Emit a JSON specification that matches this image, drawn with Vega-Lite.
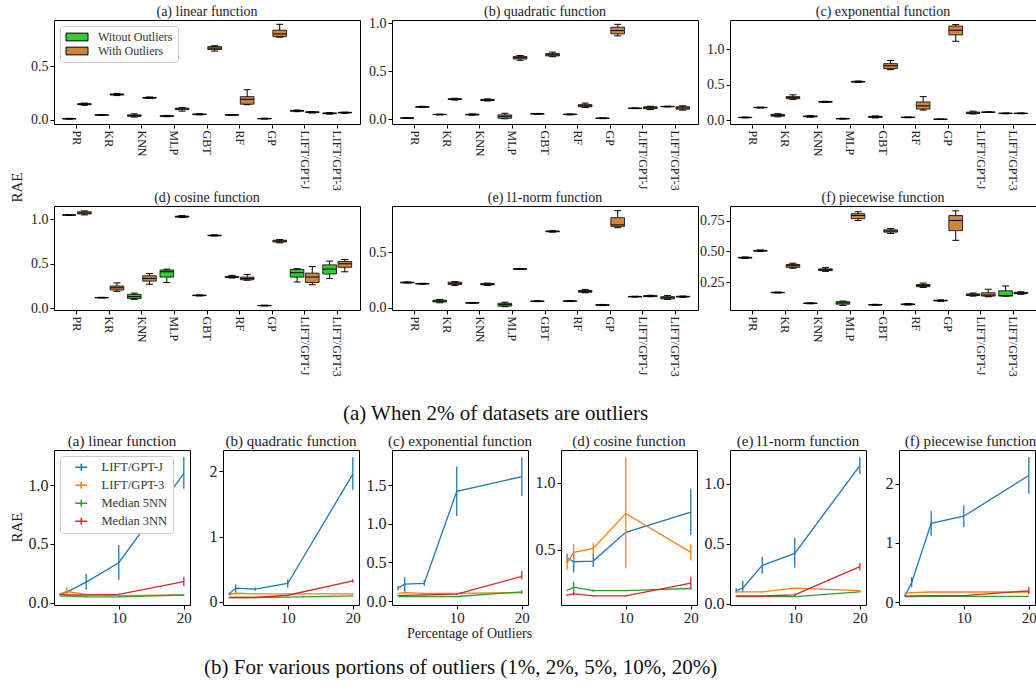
{
"$schema":"https://vega.github.io/schema/vega-lite/v6.json",
"padding":{"left":8,"top":4,"right":0,"bottom":0},
"background":"white",
"datasets":{
"box":[
{"p":"a","m":"PR","g":"Without","lo":0.005,"q1":0.007,"md":0.009,"q3":0.011,"hi":0.013},
{"p":"a","m":"PR","g":"With","lo":0.135,"q1":0.14,"md":0.145,"q3":0.15,"hi":0.155},
{"p":"a","m":"KR","g":"Without","lo":0.04,"q1":0.042,"md":0.044,"q3":0.046,"hi":0.048},
{"p":"a","m":"KR","g":"With","lo":0.225,"q1":0.23,"md":0.235,"q3":0.24,"hi":0.245},
{"p":"a","m":"KNN","g":"Without","lo":0.025,"q1":0.032,"md":0.038,"q3":0.045,"hi":0.055},
{"p":"a","m":"KNN","g":"With","lo":0.198,"q1":0.201,"md":0.204,"q3":0.208,"hi":0.212},
{"p":"a","m":"MLP","g":"Without","lo":0.028,"q1":0.031,"md":0.034,"q3":0.037,"hi":0.04},
{"p":"a","m":"MLP","g":"With","lo":0.08,"q1":0.094,"md":0.1,"q3":0.108,"hi":0.112},
{"p":"a","m":"GBT","g":"Without","lo":0.045,"q1":0.048,"md":0.05,"q3":0.053,"hi":0.056},
{"p":"a","m":"GBT","g":"With","lo":0.64,"q1":0.655,"md":0.668,"q3":0.682,"hi":0.69},
{"p":"a","m":"RF","g":"Without","lo":0.04,"q1":0.042,"md":0.045,"q3":0.047,"hi":0.049},
{"p":"a","m":"RF","g":"With","lo":0.14,"q1":0.145,"md":0.19,"q3":0.215,"hi":0.28},
{"p":"a","m":"GP","g":"Without","lo":0.006,"q1":0.008,"md":0.01,"q3":0.012,"hi":0.014},
{"p":"a","m":"GP","g":"With","lo":0.77,"q1":0.775,"md":0.8,"q3":0.835,"hi":0.89},
{"p":"a","m":"LIFT/GPT-J","g":"Without","lo":0.075,"q1":0.079,"md":0.083,"q3":0.087,"hi":0.09},
{"p":"a","m":"LIFT/GPT-J","g":"With","lo":0.062,"q1":0.066,"md":0.07,"q3":0.074,"hi":0.077},
{"p":"a","m":"LIFT/GPT-3","g":"Without","lo":0.052,"q1":0.056,"md":0.06,"q3":0.063,"hi":0.066},
{"p":"a","m":"LIFT/GPT-3","g":"With","lo":0.06,"q1":0.063,"md":0.066,"q3":0.069,"hi":0.071},
{"p":"b","m":"PR","g":"Without","lo":0.008,"q1":0.01,"md":0.012,"q3":0.014,"hi":0.016},
{"p":"b","m":"PR","g":"With","lo":0.122,"q1":0.125,"md":0.128,"q3":0.132,"hi":0.135},
{"p":"b","m":"KR","g":"Without","lo":0.045,"q1":0.047,"md":0.049,"q3":0.051,"hi":0.053},
{"p":"b","m":"KR","g":"With","lo":0.2,"q1":0.205,"md":0.21,"q3":0.214,"hi":0.218},
{"p":"b","m":"KNN","g":"Without","lo":0.042,"q1":0.045,"md":0.048,"q3":0.052,"hi":0.055},
{"p":"b","m":"KNN","g":"With","lo":0.19,"q1":0.195,"md":0.2,"q3":0.207,"hi":0.212},
{"p":"b","m":"MLP","g":"Without","lo":0.005,"q1":0.01,"md":0.03,"q3":0.045,"hi":0.062},
{"p":"b","m":"MLP","g":"With","lo":0.615,"q1":0.628,"md":0.64,"q3":0.655,"hi":0.665},
{"p":"b","m":"GBT","g":"Without","lo":0.052,"q1":0.054,"md":0.056,"q3":0.058,"hi":0.06},
{"p":"b","m":"GBT","g":"With","lo":0.652,"q1":0.66,"md":0.672,"q3":0.685,"hi":0.7},
{"p":"b","m":"RF","g":"Without","lo":0.045,"q1":0.048,"md":0.05,"q3":0.053,"hi":0.055},
{"p":"b","m":"RF","g":"With","lo":0.122,"q1":0.13,"md":0.14,"q3":0.152,"hi":0.168},
{"p":"b","m":"GP","g":"Without","lo":0.006,"q1":0.008,"md":0.01,"q3":0.012,"hi":0.014},
{"p":"b","m":"GP","g":"With","lo":0.87,"q1":0.89,"md":0.925,"q3":0.96,"hi":0.99},
{"p":"b","m":"LIFT/GPT-J","g":"Without","lo":0.11,"q1":0.112,"md":0.114,"q3":0.116,"hi":0.118},
{"p":"b","m":"LIFT/GPT-J","g":"With","lo":0.1,"q1":0.11,"md":0.12,"q3":0.13,"hi":0.135},
{"p":"b","m":"LIFT/GPT-3","g":"Without","lo":0.128,"q1":0.13,"md":0.132,"q3":0.134,"hi":0.136},
{"p":"b","m":"LIFT/GPT-3","g":"With","lo":0.095,"q1":0.105,"md":0.118,"q3":0.13,"hi":0.14},
{"p":"c","m":"PR","g":"Without","lo":0.03,"q1":0.033,"md":0.036,"q3":0.039,"hi":0.042},
{"p":"c","m":"PR","g":"With","lo":0.17,"q1":0.173,"md":0.176,"q3":0.179,"hi":0.182},
{"p":"c","m":"KR","g":"Without","lo":0.045,"q1":0.055,"md":0.065,"q3":0.08,"hi":0.09},
{"p":"c","m":"KR","g":"With","lo":0.29,"q1":0.3,"md":0.315,"q3":0.33,"hi":0.355},
{"p":"c","m":"KNN","g":"Without","lo":0.04,"q1":0.045,"md":0.05,"q3":0.058,"hi":0.062},
{"p":"c","m":"KNN","g":"With","lo":0.248,"q1":0.252,"md":0.256,"q3":0.26,"hi":0.264},
{"p":"c","m":"MLP","g":"Without","lo":0.013,"q1":0.016,"md":0.019,"q3":0.022,"hi":0.025},
{"p":"c","m":"MLP","g":"With","lo":0.53,"q1":0.535,"md":0.54,"q3":0.545,"hi":0.55},
{"p":"c","m":"GBT","g":"Without","lo":0.03,"q1":0.037,"md":0.044,"q3":0.052,"hi":0.058},
{"p":"c","m":"GBT","g":"With","lo":0.71,"q1":0.725,"md":0.765,"q3":0.795,"hi":0.84},
{"p":"c","m":"RF","g":"Without","lo":0.032,"q1":0.035,"md":0.038,"q3":0.041,"hi":0.044},
{"p":"c","m":"RF","g":"With","lo":0.14,"q1":0.155,"md":0.2,"q3":0.255,"hi":0.33},
{"p":"c","m":"GP","g":"Without","lo":0.007,"q1":0.009,"md":0.011,"q3":0.013,"hi":0.015},
{"p":"c","m":"GP","g":"With","lo":1.11,"q1":1.2,"md":1.265,"q3":1.325,"hi":1.345},
{"p":"c","m":"LIFT/GPT-J","g":"Without","lo":0.085,"q1":0.092,"md":0.1,"q3":0.112,"hi":0.125},
{"p":"c","m":"LIFT/GPT-J","g":"With","lo":0.105,"q1":0.108,"md":0.111,"q3":0.114,"hi":0.117},
{"p":"c","m":"LIFT/GPT-3","g":"Without","lo":0.088,"q1":0.091,"md":0.094,"q3":0.097,"hi":0.1},
{"p":"c","m":"LIFT/GPT-3","g":"With","lo":0.088,"q1":0.091,"md":0.094,"q3":0.097,"hi":0.1},
{"p":"d","m":"PR","g":"Without","lo":1.045,"q1":1.047,"md":1.049,"q3":1.051,"hi":1.053},
{"p":"d","m":"PR","g":"With","lo":1.05,"q1":1.06,"md":1.072,"q3":1.085,"hi":1.095},
{"p":"d","m":"KR","g":"Without","lo":0.115,"q1":0.117,"md":0.119,"q3":0.121,"hi":0.123},
{"p":"d","m":"KR","g":"With","lo":0.19,"q1":0.205,"md":0.23,"q3":0.25,"hi":0.285},
{"p":"d","m":"KNN","g":"Without","lo":0.1,"q1":0.11,"md":0.13,"q3":0.155,"hi":0.17},
{"p":"d","m":"KNN","g":"With","lo":0.27,"q1":0.305,"md":0.335,"q3":0.365,"hi":0.39},
{"p":"d","m":"MLP","g":"Without","lo":0.29,"q1":0.35,"md":0.41,"q3":0.43,"hi":0.44},
{"p":"d","m":"MLP","g":"With","lo":1.02,"q1":1.025,"md":1.03,"q3":1.036,"hi":1.042},
{"p":"d","m":"GBT","g":"Without","lo":0.138,"q1":0.141,"md":0.144,"q3":0.147,"hi":0.15},
{"p":"d","m":"GBT","g":"With","lo":0.812,"q1":0.815,"md":0.818,"q3":0.822,"hi":0.826},
{"p":"d","m":"RF","g":"Without","lo":0.34,"q1":0.346,"md":0.352,"q3":0.358,"hi":0.37},
{"p":"d","m":"RF","g":"With","lo":0.315,"q1":0.32,"md":0.335,"q3":0.35,"hi":0.38},
{"p":"d","m":"GP","g":"Without","lo":0.026,"q1":0.028,"md":0.03,"q3":0.032,"hi":0.034},
{"p":"d","m":"GP","g":"With","lo":0.735,"q1":0.745,"md":0.755,"q3":0.765,"hi":0.772},
{"p":"d","m":"LIFT/GPT-J","g":"Without","lo":0.295,"q1":0.35,"md":0.4,"q3":0.435,"hi":0.445},
{"p":"d","m":"LIFT/GPT-J","g":"With","lo":0.265,"q1":0.29,"md":0.35,"q3":0.395,"hi":0.468},
{"p":"d","m":"LIFT/GPT-3","g":"Without","lo":0.335,"q1":0.385,"md":0.44,"q3":0.488,"hi":0.53},
{"p":"d","m":"LIFT/GPT-3","g":"With","lo":0.41,"q1":0.46,"md":0.5,"q3":0.525,"hi":0.548},
{"p":"e","m":"PR","g":"Without","lo":0.222,"q1":0.224,"md":0.227,"q3":0.23,"hi":0.233},
{"p":"e","m":"PR","g":"With","lo":0.212,"q1":0.214,"md":0.216,"q3":0.218,"hi":0.22},
{"p":"e","m":"KR","g":"Without","lo":0.045,"q1":0.052,"md":0.06,"q3":0.068,"hi":0.075},
{"p":"e","m":"KR","g":"With","lo":0.2,"q1":0.21,"md":0.22,"q3":0.23,"hi":0.235},
{"p":"e","m":"KNN","g":"Without","lo":0.04,"q1":0.042,"md":0.044,"q3":0.046,"hi":0.048},
{"p":"e","m":"KNN","g":"With","lo":0.2,"q1":0.206,"md":0.212,"q3":0.218,"hi":0.222},
{"p":"e","m":"MLP","g":"Without","lo":0.01,"q1":0.015,"md":0.028,"q3":0.04,"hi":0.05},
{"p":"e","m":"MLP","g":"With","lo":0.343,"q1":0.345,"md":0.348,"q3":0.351,"hi":0.353},
{"p":"e","m":"GBT","g":"Without","lo":0.055,"q1":0.057,"md":0.059,"q3":0.061,"hi":0.063},
{"p":"e","m":"GBT","g":"With","lo":0.68,"q1":0.683,"md":0.687,"q3":0.69,"hi":0.693},
{"p":"e","m":"RF","g":"Without","lo":0.056,"q1":0.058,"md":0.06,"q3":0.062,"hi":0.064},
{"p":"e","m":"RF","g":"With","lo":0.135,"q1":0.14,"md":0.147,"q3":0.155,"hi":0.165},
{"p":"e","m":"GP","g":"Without","lo":0.02,"q1":0.022,"md":0.025,"q3":0.028,"hi":0.03},
{"p":"e","m":"GP","g":"With","lo":0.72,"q1":0.732,"md":0.745,"q3":0.81,"hi":0.873},
{"p":"e","m":"LIFT/GPT-J","g":"Without","lo":0.096,"q1":0.098,"md":0.1,"q3":0.102,"hi":0.104},
{"p":"e","m":"LIFT/GPT-J","g":"With","lo":0.098,"q1":0.101,"md":0.105,"q3":0.109,"hi":0.112},
{"p":"e","m":"LIFT/GPT-3","g":"Without","lo":0.075,"q1":0.08,"md":0.09,"q3":0.1,"hi":0.11},
{"p":"e","m":"LIFT/GPT-3","g":"With","lo":0.094,"q1":0.097,"md":0.1,"q3":0.103,"hi":0.106},
{"p":"f","m":"PR","g":"Without","lo":0.444,"q1":0.447,"md":0.45,"q3":0.453,"hi":0.456},
{"p":"f","m":"PR","g":"With","lo":0.5,"q1":0.503,"md":0.506,"q3":0.509,"hi":0.512},
{"p":"f","m":"KR","g":"Without","lo":0.165,"q1":0.167,"md":0.169,"q3":0.171,"hi":0.173},
{"p":"f","m":"KR","g":"With","lo":0.365,"q1":0.372,"md":0.385,"q3":0.395,"hi":0.405},
{"p":"f","m":"KNN","g":"Without","lo":0.078,"q1":0.08,"md":0.082,"q3":0.084,"hi":0.086},
{"p":"f","m":"KNN","g":"With","lo":0.34,"q1":0.346,"md":0.353,"q3":0.36,"hi":0.37},
{"p":"f","m":"MLP","g":"Without","lo":0.065,"q1":0.075,"md":0.085,"q3":0.095,"hi":0.1},
{"p":"f","m":"MLP","g":"With","lo":0.75,"q1":0.765,"md":0.79,"q3":0.805,"hi":0.82},
{"p":"f","m":"GBT","g":"Without","lo":0.066,"q1":0.068,"md":0.07,"q3":0.072,"hi":0.074},
{"p":"f","m":"GBT","g":"With","lo":0.645,"q1":0.656,"md":0.665,"q3":0.675,"hi":0.685},
{"p":"f","m":"RF","g":"Without","lo":0.068,"q1":0.071,"md":0.074,"q3":0.077,"hi":0.08},
{"p":"f","m":"RF","g":"With","lo":0.21,"q1":0.216,"md":0.225,"q3":0.234,"hi":0.245},
{"p":"f","m":"GP","g":"Without","lo":0.098,"q1":0.101,"md":0.104,"q3":0.107,"hi":0.11},
{"p":"f","m":"GP","g":"With","lo":0.59,"q1":0.668,"md":0.75,"q3":0.79,"hi":0.828},
{"p":"f","m":"LIFT/GPT-J","g":"Without","lo":0.14,"q1":0.145,"md":0.15,"q3":0.158,"hi":0.165},
{"p":"f","m":"LIFT/GPT-J","g":"With","lo":0.135,"q1":0.14,"md":0.15,"q3":0.167,"hi":0.195},
{"p":"f","m":"LIFT/GPT-3","g":"Without","lo":0.14,"q1":0.14,"md":0.145,"q3":0.183,"hi":0.222},
{"p":"f","m":"LIFT/GPT-3","g":"With","lo":0.155,"q1":0.16,"md":0.165,"q3":0.17,"hi":0.175}
],
"line":[
{"p":"a","s":"LIFT/GPT-J","x":1,"v":0.07,"lo":0.06,"hi":0.08},
{"p":"a","s":"LIFT/GPT-J","x":2,"v":0.09,"lo":0.07,"hi":0.11},
{"p":"a","s":"LIFT/GPT-J","x":5,"v":0.175,"lo":0.11,"hi":0.245},
{"p":"a","s":"LIFT/GPT-J","x":10,"v":0.34,"lo":0.19,"hi":0.49},
{"p":"a","s":"LIFT/GPT-J","x":20,"v":1.1,"lo":0.97,"hi":1.24},
{"p":"a","s":"LIFT/GPT-3","x":1,"v":0.075,"lo":0.07,"hi":0.08},
{"p":"a","s":"LIFT/GPT-3","x":2,"v":0.095,"lo":0.06,"hi":0.13},
{"p":"a","s":"LIFT/GPT-3","x":5,"v":0.07,"lo":0.065,"hi":0.075},
{"p":"a","s":"LIFT/GPT-3","x":10,"v":0.06,"lo":0.055,"hi":0.065},
{"p":"a","s":"LIFT/GPT-3","x":20,"v":0.065,"lo":0.06,"hi":0.07},
{"p":"a","s":"Median 5NN","x":1,"v":0.055,"lo":0.052,"hi":0.058},
{"p":"a","s":"Median 5NN","x":2,"v":0.055,"lo":0.052,"hi":0.058},
{"p":"a","s":"Median 5NN","x":5,"v":0.05,"lo":0.047,"hi":0.053},
{"p":"a","s":"Median 5NN","x":10,"v":0.05,"lo":0.047,"hi":0.053},
{"p":"a","s":"Median 5NN","x":20,"v":0.065,"lo":0.062,"hi":0.068},
{"p":"a","s":"Median 3NN","x":1,"v":0.07,"lo":0.067,"hi":0.073},
{"p":"a","s":"Median 3NN","x":2,"v":0.065,"lo":0.062,"hi":0.068},
{"p":"a","s":"Median 3NN","x":5,"v":0.065,"lo":0.062,"hi":0.068},
{"p":"a","s":"Median 3NN","x":10,"v":0.07,"lo":0.065,"hi":0.075},
{"p":"a","s":"Median 3NN","x":20,"v":0.18,"lo":0.14,"hi":0.22},
{"p":"b","s":"LIFT/GPT-J","x":1,"v":0.12,"lo":0.1,"hi":0.14},
{"p":"b","s":"LIFT/GPT-J","x":2,"v":0.21,"lo":0.15,"hi":0.27},
{"p":"b","s":"LIFT/GPT-J","x":5,"v":0.195,"lo":0.17,"hi":0.22},
{"p":"b","s":"LIFT/GPT-J","x":10,"v":0.28,"lo":0.22,"hi":0.34},
{"p":"b","s":"LIFT/GPT-J","x":20,"v":1.96,"lo":1.72,"hi":2.22},
{"p":"b","s":"LIFT/GPT-3","x":1,"v":0.11,"lo":0.1,"hi":0.12},
{"p":"b","s":"LIFT/GPT-3","x":2,"v":0.13,"lo":0.11,"hi":0.15},
{"p":"b","s":"LIFT/GPT-3","x":5,"v":0.12,"lo":0.11,"hi":0.13},
{"p":"b","s":"LIFT/GPT-3","x":10,"v":0.12,"lo":0.11,"hi":0.13},
{"p":"b","s":"LIFT/GPT-3","x":20,"v":0.12,"lo":0.11,"hi":0.13},
{"p":"b","s":"Median 5NN","x":1,"v":0.065,"lo":0.06,"hi":0.07},
{"p":"b","s":"Median 5NN","x":2,"v":0.065,"lo":0.06,"hi":0.07},
{"p":"b","s":"Median 5NN","x":5,"v":0.065,"lo":0.06,"hi":0.07},
{"p":"b","s":"Median 5NN","x":10,"v":0.07,"lo":0.065,"hi":0.075},
{"p":"b","s":"Median 5NN","x":20,"v":0.09,"lo":0.085,"hi":0.095},
{"p":"b","s":"Median 3NN","x":1,"v":0.065,"lo":0.06,"hi":0.07},
{"p":"b","s":"Median 3NN","x":2,"v":0.065,"lo":0.06,"hi":0.07},
{"p":"b","s":"Median 3NN","x":5,"v":0.065,"lo":0.06,"hi":0.07},
{"p":"b","s":"Median 3NN","x":10,"v":0.1,"lo":0.095,"hi":0.105},
{"p":"b","s":"Median 3NN","x":20,"v":0.32,"lo":0.29,"hi":0.35},
{"p":"c","s":"LIFT/GPT-J","x":1,"v":0.17,"lo":0.14,"hi":0.2},
{"p":"c","s":"LIFT/GPT-J","x":2,"v":0.22,"lo":0.12,"hi":0.31},
{"p":"c","s":"LIFT/GPT-J","x":5,"v":0.23,"lo":0.2,"hi":0.27},
{"p":"c","s":"LIFT/GPT-J","x":10,"v":1.42,"lo":1.1,"hi":1.74},
{"p":"c","s":"LIFT/GPT-J","x":20,"v":1.61,"lo":1.36,"hi":1.86},
{"p":"c","s":"LIFT/GPT-3","x":1,"v":0.1,"lo":0.095,"hi":0.105},
{"p":"c","s":"LIFT/GPT-3","x":2,"v":0.11,"lo":0.105,"hi":0.115},
{"p":"c","s":"LIFT/GPT-3","x":5,"v":0.1,"lo":0.095,"hi":0.105},
{"p":"c","s":"LIFT/GPT-3","x":10,"v":0.1,"lo":0.095,"hi":0.105},
{"p":"c","s":"LIFT/GPT-3","x":20,"v":0.11,"lo":0.1,"hi":0.12},
{"p":"c","s":"Median 5NN","x":1,"v":0.06,"lo":0.057,"hi":0.063},
{"p":"c","s":"Median 5NN","x":2,"v":0.06,"lo":0.057,"hi":0.063},
{"p":"c","s":"Median 5NN","x":5,"v":0.06,"lo":0.057,"hi":0.063},
{"p":"c","s":"Median 5NN","x":10,"v":0.06,"lo":0.057,"hi":0.063},
{"p":"c","s":"Median 5NN","x":20,"v":0.12,"lo":0.1,"hi":0.14},
{"p":"c","s":"Median 3NN","x":1,"v":0.07,"lo":0.067,"hi":0.073},
{"p":"c","s":"Median 3NN","x":2,"v":0.075,"lo":0.07,"hi":0.08},
{"p":"c","s":"Median 3NN","x":5,"v":0.08,"lo":0.075,"hi":0.085},
{"p":"c","s":"Median 3NN","x":10,"v":0.09,"lo":0.085,"hi":0.095},
{"p":"c","s":"Median 3NN","x":20,"v":0.32,"lo":0.28,"hi":0.39},
{"p":"d","s":"LIFT/GPT-J","x":1,"v":0.44,"lo":0.4,"hi":0.47},
{"p":"d","s":"LIFT/GPT-J","x":2,"v":0.41,"lo":0.33,"hi":0.47},
{"p":"d","s":"LIFT/GPT-J","x":5,"v":0.415,"lo":0.37,"hi":0.47},
{"p":"d","s":"LIFT/GPT-J","x":10,"v":0.63,"lo":0.62,"hi":0.64},
{"p":"d","s":"LIFT/GPT-J","x":20,"v":0.78,"lo":0.61,"hi":0.955},
{"p":"d","s":"LIFT/GPT-3","x":1,"v":0.4,"lo":0.35,"hi":0.45},
{"p":"d","s":"LIFT/GPT-3","x":2,"v":0.48,"lo":0.42,"hi":0.54},
{"p":"d","s":"LIFT/GPT-3","x":5,"v":0.51,"lo":0.47,"hi":0.55},
{"p":"d","s":"LIFT/GPT-3","x":10,"v":0.77,"lo":0.36,"hi":1.19},
{"p":"d","s":"LIFT/GPT-3","x":20,"v":0.48,"lo":0.42,"hi":0.54},
{"p":"d","s":"Median 5NN","x":1,"v":0.195,"lo":0.19,"hi":0.2},
{"p":"d","s":"Median 5NN","x":2,"v":0.22,"lo":0.18,"hi":0.26},
{"p":"d","s":"Median 5NN","x":5,"v":0.195,"lo":0.185,"hi":0.205},
{"p":"d","s":"Median 5NN","x":10,"v":0.195,"lo":0.19,"hi":0.2},
{"p":"d","s":"Median 5NN","x":20,"v":0.21,"lo":0.2,"hi":0.22},
{"p":"d","s":"Median 3NN","x":1,"v":0.16,"lo":0.155,"hi":0.165},
{"p":"d","s":"Median 3NN","x":2,"v":0.17,"lo":0.16,"hi":0.185},
{"p":"d","s":"Median 3NN","x":5,"v":0.155,"lo":0.15,"hi":0.16},
{"p":"d","s":"Median 3NN","x":10,"v":0.155,"lo":0.15,"hi":0.16},
{"p":"d","s":"Median 3NN","x":20,"v":0.25,"lo":0.21,"hi":0.3},
{"p":"e","s":"LIFT/GPT-J","x":1,"v":0.11,"lo":0.09,"hi":0.13},
{"p":"e","s":"LIFT/GPT-J","x":2,"v":0.13,"lo":0.1,"hi":0.19},
{"p":"e","s":"LIFT/GPT-J","x":5,"v":0.32,"lo":0.25,"hi":0.39},
{"p":"e","s":"LIFT/GPT-J","x":10,"v":0.42,"lo":0.3,"hi":0.55},
{"p":"e","s":"LIFT/GPT-J","x":20,"v":1.15,"lo":1.08,"hi":1.22},
{"p":"e","s":"LIFT/GPT-3","x":1,"v":0.1,"lo":0.095,"hi":0.105},
{"p":"e","s":"LIFT/GPT-3","x":2,"v":0.1,"lo":0.095,"hi":0.105},
{"p":"e","s":"LIFT/GPT-3","x":5,"v":0.1,"lo":0.095,"hi":0.105},
{"p":"e","s":"LIFT/GPT-3","x":10,"v":0.13,"lo":0.125,"hi":0.135},
{"p":"e","s":"LIFT/GPT-3","x":20,"v":0.11,"lo":0.105,"hi":0.115},
{"p":"e","s":"Median 5NN","x":1,"v":0.06,"lo":0.057,"hi":0.063},
{"p":"e","s":"Median 5NN","x":2,"v":0.06,"lo":0.057,"hi":0.063},
{"p":"e","s":"Median 5NN","x":5,"v":0.06,"lo":0.057,"hi":0.063},
{"p":"e","s":"Median 5NN","x":10,"v":0.06,"lo":0.057,"hi":0.063},
{"p":"e","s":"Median 5NN","x":20,"v":0.1,"lo":0.095,"hi":0.105},
{"p":"e","s":"Median 3NN","x":1,"v":0.065,"lo":0.062,"hi":0.068},
{"p":"e","s":"Median 3NN","x":2,"v":0.065,"lo":0.062,"hi":0.068},
{"p":"e","s":"Median 3NN","x":5,"v":0.065,"lo":0.062,"hi":0.068},
{"p":"e","s":"Median 3NN","x":10,"v":0.075,"lo":0.065,"hi":0.085},
{"p":"e","s":"Median 3NN","x":20,"v":0.31,"lo":0.28,"hi":0.34},
{"p":"f","s":"LIFT/GPT-J","x":1,"v":0.11,"lo":0.09,"hi":0.13},
{"p":"f","s":"LIFT/GPT-J","x":2,"v":0.33,"lo":0.25,"hi":0.42},
{"p":"f","s":"LIFT/GPT-J","x":5,"v":1.33,"lo":1.12,"hi":1.54},
{"p":"f","s":"LIFT/GPT-J","x":10,"v":1.45,"lo":1.27,"hi":1.63},
{"p":"f","s":"LIFT/GPT-J","x":20,"v":2.14,"lo":1.83,"hi":2.45},
{"p":"f","s":"LIFT/GPT-3","x":1,"v":0.15,"lo":0.14,"hi":0.16},
{"p":"f","s":"LIFT/GPT-3","x":2,"v":0.16,"lo":0.15,"hi":0.17},
{"p":"f","s":"LIFT/GPT-3","x":5,"v":0.17,"lo":0.16,"hi":0.18},
{"p":"f","s":"LIFT/GPT-3","x":10,"v":0.17,"lo":0.16,"hi":0.18},
{"p":"f","s":"LIFT/GPT-3","x":20,"v":0.17,"lo":0.16,"hi":0.18},
{"p":"f","s":"Median 5NN","x":1,"v":0.09,"lo":0.085,"hi":0.095},
{"p":"f","s":"Median 5NN","x":2,"v":0.09,"lo":0.085,"hi":0.095},
{"p":"f","s":"Median 5NN","x":5,"v":0.095,"lo":0.09,"hi":0.1},
{"p":"f","s":"Median 5NN","x":10,"v":0.095,"lo":0.09,"hi":0.1},
{"p":"f","s":"Median 5NN","x":20,"v":0.095,"lo":0.09,"hi":0.1},
{"p":"f","s":"Median 3NN","x":1,"v":0.1,"lo":0.095,"hi":0.105},
{"p":"f","s":"Median 3NN","x":2,"v":0.105,"lo":0.1,"hi":0.11},
{"p":"f","s":"Median 3NN","x":5,"v":0.11,"lo":0.105,"hi":0.115},
{"p":"f","s":"Median 3NN","x":10,"v":0.11,"lo":0.105,"hi":0.115},
{"p":"f","s":"Median 3NN","x":20,"v":0.19,"lo":0.13,"hi":0.26}
]
},
"vconcat":[
{
"concat":[
{"width":306,"height":104,"data":{"name":"box"},"transform":[{"filter":"datum.p=='a'"}],"title":{"text":"(a) linear function"},
"encoding":{"x":{"field":"m","type":"nominal","scale":{"domain":["PR","KR","KNN","MLP","GBT","RF","GP","LIFT/GPT-J","LIFT/GPT-3"],"paddingInner":0,"paddingOuter":0.2},"axis":{"labelAngle":90,"labelAlign":"left","labelBaseline":"middle"},"title":null},
"xOffset":{"field":"g","type":"nominal","scale":{"domain":["Without","With"],"paddingInner":0.1,"paddingOuter":0.12}}},
"layer":[
{"mark":{"type":"rule","color":"black","strokeWidth":1},"encoding":{"y":{"field":"lo","type":"quantitative","title":"RAE","scale":{"domain":[-0.04,0.93],"nice":false,"zero":false},"axis":{"values":[0,0.5],"format":".1f","titleX":-30,"titleY":167,"titleAngle":-90,"titleAlign":"center","titleBaseline":"bottom","titleFontSize":15}},"y2":{"field":"hi"}}},
{"mark":{"type":"bar","stroke":"black","strokeWidth":0.8,"opacity":1},"encoding":{"y":{"field":"q1","type":"quantitative","title":"RAE"},"y2":{"field":"q3"},"color":{"field":"g","type":"nominal","scale":{"domain":["Without","With"],"range":["#32CD32","#CD853F"]},"legend":{"orient":"top-left","offset":6,"title":null,"labelExpr":"datum.label == 'Without' ? 'Witout Outliers' : 'With Outliers'","labelFontSize":12,"labelColor":"#333","symbolType":"M-2,-0.7H2V0.7H-2Z","symbolSize":121,"symbolStrokeColor":"black","symbolStrokeWidth":1,"symbolOpacity":1,"symbolOffset":6,"labelOffset":15,"padding":5,"rowPadding":2,"strokeColor":"#cccccc","fillColor":"white","cornerRadius":3}}}},
{"mark":{"type":"tick","color":"black","thickness":1,"size":13,"opacity":1},"encoding":{"y":{"field":"md","type":"quantitative","title":"RAE"}}},
{"mark":{"type":"tick","color":"black","thickness":1,"size":7,"opacity":1},"encoding":{"y":{"field":"lo","type":"quantitative","title":"RAE"}}},
{"mark":{"type":"tick","color":"black","thickness":1,"size":7,"opacity":1},"encoding":{"y":{"field":"hi","type":"quantitative","title":"RAE"}}}
]},
{"width":306,"height":104,"data":{"name":"box"},"transform":[{"filter":"datum.p=='b'"}],"title":{"text":"(b) quadratic function","dy":4},
"encoding":{"x":{"field":"m","type":"nominal","scale":{"domain":["PR","KR","KNN","MLP","GBT","RF","GP","LIFT/GPT-J","LIFT/GPT-3"],"paddingInner":0,"paddingOuter":0.2},"axis":{"labelAngle":90,"labelAlign":"left","labelBaseline":"middle"},"title":null},
"xOffset":{"field":"g","type":"nominal","scale":{"domain":["Without","With"],"paddingInner":0.1,"paddingOuter":0.12}}},
"layer":[
{"mark":{"type":"rule","color":"black","strokeWidth":1},"encoding":{"y":{"field":"lo","type":"quantitative","scale":{"domain":[-0.05,1.035],"nice":false,"zero":false},"axis":{"values":[0,0.5,1],"format":".1f"},"title":null},"y2":{"field":"hi"}}},
{"mark":{"type":"bar","stroke":"black","strokeWidth":0.8,"opacity":1},"encoding":{"y":{"field":"q1","type":"quantitative","title":null},"y2":{"field":"q3"},"color":{"field":"g","type":"nominal","scale":{"domain":["Without","With"],"range":["#32CD32","#CD853F"]},"legend":null}}},
{"mark":{"type":"tick","color":"black","thickness":1,"size":13,"opacity":1},"encoding":{"y":{"field":"md","type":"quantitative","title":null}}},
{"mark":{"type":"tick","color":"black","thickness":1,"size":7,"opacity":1},"encoding":{"y":{"field":"lo","type":"quantitative","title":null}}},
{"mark":{"type":"tick","color":"black","thickness":1,"size":7,"opacity":1},"encoding":{"y":{"field":"hi","type":"quantitative","title":null}}}
]},
{"width":306,"height":104,"data":{"name":"box"},"transform":[{"filter":"datum.p=='c'"}],"title":{"text":"(c) exponential function"},
"encoding":{"x":{"field":"m","type":"nominal","scale":{"domain":["PR","KR","KNN","MLP","GBT","RF","GP","LIFT/GPT-J","LIFT/GPT-3"],"paddingInner":0,"paddingOuter":0.2},"axis":{"labelAngle":90,"labelAlign":"left","labelBaseline":"middle"},"title":null},
"xOffset":{"field":"g","type":"nominal","scale":{"domain":["Without","With"],"paddingInner":0.1,"paddingOuter":0.12}}},
"layer":[
{"mark":{"type":"rule","color":"black","strokeWidth":1},"encoding":{"y":{"field":"lo","type":"quantitative","scale":{"domain":[-0.056,1.41],"nice":false,"zero":false},"axis":{"values":[0,0.5,1],"format":".1f"},"title":null},"y2":{"field":"hi"}}},
{"mark":{"type":"bar","stroke":"black","strokeWidth":0.8,"opacity":1},"encoding":{"y":{"field":"q1","type":"quantitative","title":null},"y2":{"field":"q3"},"color":{"field":"g","type":"nominal","scale":{"domain":["Without","With"],"range":["#32CD32","#CD853F"]},"legend":null}}},
{"mark":{"type":"tick","color":"black","thickness":1,"size":13,"opacity":1},"encoding":{"y":{"field":"md","type":"quantitative","title":null}}},
{"mark":{"type":"tick","color":"black","thickness":1,"size":7,"opacity":1},"encoding":{"y":{"field":"lo","type":"quantitative","title":null}}},
{"mark":{"type":"tick","color":"black","thickness":1,"size":7,"opacity":1},"encoding":{"y":{"field":"hi","type":"quantitative","title":null}}}
]},
{"width":306,"height":104,"data":{"name":"box"},"transform":[{"filter":"datum.p=='d'"}],"title":{"text":"(d) cosine function"},
"encoding":{"x":{"field":"m","type":"nominal","scale":{"domain":["PR","KR","KNN","MLP","GBT","RF","GP","LIFT/GPT-J","LIFT/GPT-3"],"paddingInner":0,"paddingOuter":0.2},"axis":{"labelAngle":90,"labelAlign":"left","labelBaseline":"middle"},"title":null},
"xOffset":{"field":"g","type":"nominal","scale":{"domain":["Without","With"],"paddingInner":0.1,"paddingOuter":0.12}}},
"layer":[
{"mark":{"type":"rule","color":"black","strokeWidth":1},"encoding":{"y":{"field":"lo","type":"quantitative","scale":{"domain":[-0.02,1.15],"nice":false,"zero":false},"axis":{"values":[0,0.5,1],"format":".1f"},"title":null},"y2":{"field":"hi"}}},
{"mark":{"type":"bar","stroke":"black","strokeWidth":0.8,"opacity":1},"encoding":{"y":{"field":"q1","type":"quantitative","title":null},"y2":{"field":"q3"},"color":{"field":"g","type":"nominal","scale":{"domain":["Without","With"],"range":["#32CD32","#CD853F"]},"legend":null}}},
{"mark":{"type":"tick","color":"black","thickness":1,"size":13,"opacity":1},"encoding":{"y":{"field":"md","type":"quantitative","title":null}}},
{"mark":{"type":"tick","color":"black","thickness":1,"size":7,"opacity":1},"encoding":{"y":{"field":"lo","type":"quantitative","title":null}}},
{"mark":{"type":"tick","color":"black","thickness":1,"size":7,"opacity":1},"encoding":{"y":{"field":"hi","type":"quantitative","title":null}}}
]},
{"width":306,"height":104,"data":{"name":"box"},"transform":[{"filter":"datum.p=='e'"}],"title":{"text":"(e) l1-norm function"},
"encoding":{"x":{"field":"m","type":"nominal","scale":{"domain":["PR","KR","KNN","MLP","GBT","RF","GP","LIFT/GPT-J","LIFT/GPT-3"],"paddingInner":0,"paddingOuter":0.2},"axis":{"labelAngle":90,"labelAlign":"left","labelBaseline":"middle"},"title":null},
"xOffset":{"field":"g","type":"nominal","scale":{"domain":["Without","With"],"paddingInner":0.1,"paddingOuter":0.12}}},
"layer":[
{"mark":{"type":"rule","color":"black","strokeWidth":1},"encoding":{"y":{"field":"lo","type":"quantitative","scale":{"domain":[-0.02,0.915],"nice":false,"zero":false},"axis":{"values":[0,0.5],"format":".1f"},"title":null},"y2":{"field":"hi"}}},
{"mark":{"type":"bar","stroke":"black","strokeWidth":0.8,"opacity":1},"encoding":{"y":{"field":"q1","type":"quantitative","title":null},"y2":{"field":"q3"},"color":{"field":"g","type":"nominal","scale":{"domain":["Without","With"],"range":["#32CD32","#CD853F"]},"legend":null}}},
{"mark":{"type":"tick","color":"black","thickness":1,"size":13,"opacity":1},"encoding":{"y":{"field":"md","type":"quantitative","title":null}}},
{"mark":{"type":"tick","color":"black","thickness":1,"size":7,"opacity":1},"encoding":{"y":{"field":"lo","type":"quantitative","title":null}}},
{"mark":{"type":"tick","color":"black","thickness":1,"size":7,"opacity":1},"encoding":{"y":{"field":"hi","type":"quantitative","title":null}}}
]},
{"width":306,"height":104,"data":{"name":"box"},"transform":[{"filter":"datum.p=='f'"}],"title":{"text":"(f) piecewise function"},
"encoding":{"x":{"field":"m","type":"nominal","scale":{"domain":["PR","KR","KNN","MLP","GBT","RF","GP","LIFT/GPT-J","LIFT/GPT-3"],"paddingInner":0,"paddingOuter":0.2},"axis":{"labelAngle":90,"labelAlign":"left","labelBaseline":"middle"},"title":null},
"xOffset":{"field":"g","type":"nominal","scale":{"domain":["Without","With"],"paddingInner":0.1,"paddingOuter":0.12}}},
"layer":[
{"mark":{"type":"rule","color":"black","strokeWidth":1},"encoding":{"y":{"field":"lo","type":"quantitative","scale":{"domain":[0.028,0.867],"nice":false,"zero":false},"axis":{"values":[0.25,0.5,0.75],"format":".2f"},"title":null},"y2":{"field":"hi"}}},
{"mark":{"type":"bar","stroke":"black","strokeWidth":0.8,"opacity":1},"encoding":{"y":{"field":"q1","type":"quantitative","title":null},"y2":{"field":"q3"},"color":{"field":"g","type":"nominal","scale":{"domain":["Without","With"],"range":["#32CD32","#CD853F"]},"legend":null}}},
{"mark":{"type":"tick","color":"black","thickness":1,"size":13,"opacity":1},"encoding":{"y":{"field":"md","type":"quantitative","title":null}}},
{"mark":{"type":"tick","color":"black","thickness":1,"size":7,"opacity":1},"encoding":{"y":{"field":"lo","type":"quantitative","title":null}}},
{"mark":{"type":"tick","color":"black","thickness":1,"size":7,"opacity":1},"encoding":{"y":{"field":"hi","type":"quantitative","title":null}}}
]}
],
"columns":3,
"spacing":{"row":82,"column":32},
"bounds":"flush",
"resolve":{"scale":{"color":"independent"},"legend":{"color":"independent"}},
"title":{"text":"(a) When 2% of datasets are outliers","orient":"bottom","fontSize":21,"offset":26,"dx":-27,"anchor":"middle","color":"#111"}
},
{
"hconcat":[
{"width":136,"height":155,"data":{"name":"line"},"transform":[{"filter":"datum.p=='a'"}],"title":{"text":"(a) linear function","fontSize":15},
"encoding":{"x":{"field":"x","type":"quantitative","scale":{"domain":[0.05,20.95],"nice":false,"zero":false},"axis":{"values":[10,20],"labelFontSize":15,"labelPadding":1,"labelAngle":0},"title":null},
"color":{"field":"s","type":"nominal","scale":{"domain":["LIFT/GPT-J","LIFT/GPT-3","Median 5NN","Median 3NN"],"range":["#1f77b4","#ff7f0e","#2ca02c","#d62728"]},"legend":{"orient":"top-left","offset":6,"title":null,"labelFontSize":12.5,"labelColor":"#333","symbolType":"M-2,0H2M0,-1.2V1.2","symbolSize":36,"symbolStrokeWidth":1.5,"symbolOffset":10,"labelOffset":14,"padding":5,"rowPadding":4,"strokeColor":"#cccccc","fillColor":"white","cornerRadius":3}}},
"layer":[
{"mark":{"type":"line","strokeWidth":1.3},"encoding":{"y":{"field":"v","type":"quantitative","title":"RAE","scale":{"domain":[-0.02,1.3],"nice":false,"zero":false},"axis":{"values":[0,0.5,1],"format":".1f","labelFontSize":16,"titleX":-30,"titleY":77,"titleAngle":-90,"titleAlign":"center","titleBaseline":"bottom","titleFontSize":15}}}},
{"mark":{"type":"rule","strokeWidth":1.3},"encoding":{"y":{"field":"lo","type":"quantitative","title":"RAE"},"y2":{"field":"hi"}}}
]},
{"width":136,"height":155,"data":{"name":"line"},"transform":[{"filter":"datum.p=='b'"}],"title":{"text":"(b) quadratic function","fontSize":15},
"encoding":{"x":{"field":"x","type":"quantitative","scale":{"domain":[0.05,20.95],"nice":false,"zero":false},"axis":{"values":[10,20],"labelFontSize":15,"labelPadding":1,"labelAngle":0},"title":null},
"color":{"field":"s","type":"nominal","scale":{"domain":["LIFT/GPT-J","LIFT/GPT-3","Median 5NN","Median 3NN"],"range":["#1f77b4","#ff7f0e","#2ca02c","#d62728"]},"legend":null}},
"layer":[
{"mark":{"type":"line","strokeWidth":1.3},"encoding":{"y":{"field":"v","type":"quantitative","scale":{"domain":[-0.05,2.33],"nice":false,"zero":false},"axis":{"values":[0,1,2],"format":"d","labelFontSize":16},"title":null}}},
{"mark":{"type":"rule","strokeWidth":1.3},"encoding":{"y":{"field":"lo","type":"quantitative","title":null},"y2":{"field":"hi"}}}
]},
{"width":136,"height":155,"data":{"name":"line"},"transform":[{"filter":"datum.p=='c'"}],"title":{"text":"(c) exponential function","fontSize":15},
"encoding":{"x":{"field":"x","type":"quantitative","title":"Percentage of Outliers","scale":{"domain":[0.05,20.95],"nice":false,"zero":false},"axis":{"values":[10,20],"labelFontSize":15,"labelPadding":1,"labelAngle":0,"titleX":77,"titleY":21,"titleAlign":"center","titleBaseline":"top","titleFontSize":14}},
"color":{"field":"s","type":"nominal","scale":{"domain":["LIFT/GPT-J","LIFT/GPT-3","Median 5NN","Median 3NN"],"range":["#1f77b4","#ff7f0e","#2ca02c","#d62728"]},"legend":null}},
"layer":[
{"mark":{"type":"line","strokeWidth":1.3},"encoding":{"y":{"field":"v","type":"quantitative","scale":{"domain":[-0.05,1.955],"nice":false,"zero":false},"axis":{"values":[0,0.5,1,1.5],"format":".1f","labelFontSize":16},"title":null}}},
{"mark":{"type":"rule","strokeWidth":1.3},"encoding":{"y":{"field":"lo","type":"quantitative","title":null},"y2":{"field":"hi"}}}
]},
{"width":136,"height":155,"data":{"name":"line"},"transform":[{"filter":"datum.p=='d'"}],"title":{"text":"(d) cosine function","fontSize":15},
"encoding":{"x":{"field":"x","type":"quantitative","scale":{"domain":[0.05,20.95],"nice":false,"zero":false},"axis":{"values":[10,20],"labelFontSize":15,"labelPadding":1,"labelAngle":0},"title":null},
"color":{"field":"s","type":"nominal","scale":{"domain":["LIFT/GPT-J","LIFT/GPT-3","Median 5NN","Median 3NN"],"range":["#1f77b4","#ff7f0e","#2ca02c","#d62728"]},"legend":null}},
"layer":[
{"mark":{"type":"line","strokeWidth":1.3},"encoding":{"y":{"field":"v","type":"quantitative","scale":{"domain":[0.087,1.244],"nice":false,"zero":false},"axis":{"values":[0.5,1],"format":".1f","labelFontSize":16},"title":null}}},
{"mark":{"type":"rule","strokeWidth":1.3},"encoding":{"y":{"field":"lo","type":"quantitative","title":null},"y2":{"field":"hi"}}}
]},
{"width":136,"height":155,"data":{"name":"line"},"transform":[{"filter":"datum.p=='e'"}],"title":{"text":"(e) l1-norm function","fontSize":15},
"encoding":{"x":{"field":"x","type":"quantitative","scale":{"domain":[0.05,20.95],"nice":false,"zero":false},"axis":{"values":[10,20],"labelFontSize":15,"labelPadding":1,"labelAngle":0},"title":null},
"color":{"field":"s","type":"nominal","scale":{"domain":["LIFT/GPT-J","LIFT/GPT-3","Median 5NN","Median 3NN"],"range":["#1f77b4","#ff7f0e","#2ca02c","#d62728"]},"legend":null}},
"layer":[
{"mark":{"type":"line","strokeWidth":1.3},"encoding":{"y":{"field":"v","type":"quantitative","scale":{"domain":[-0.01,1.28],"nice":false,"zero":false},"axis":{"values":[0,0.5,1],"format":".1f","labelFontSize":16},"title":null}}},
{"mark":{"type":"rule","strokeWidth":1.3},"encoding":{"y":{"field":"lo","type":"quantitative","title":null},"y2":{"field":"hi"}}}
]},
{"width":136,"height":155,"data":{"name":"line"},"transform":[{"filter":"datum.p=='f'"}],"title":{"text":"(f) piecewise function","fontSize":15,"anchor":"end"},
"encoding":{"x":{"field":"x","type":"quantitative","scale":{"domain":[0.05,20.95],"nice":false,"zero":false},"axis":{"values":[10,20],"labelFontSize":15,"labelPadding":1,"labelAngle":0},"title":null},
"color":{"field":"s","type":"nominal","scale":{"domain":["LIFT/GPT-J","LIFT/GPT-3","Median 5NN","Median 3NN"],"range":["#1f77b4","#ff7f0e","#2ca02c","#d62728"]},"legend":null}},
"layer":[
{"mark":{"type":"line","strokeWidth":1.3},"encoding":{"y":{"field":"v","type":"quantitative","scale":{"domain":[-0.05,2.57],"nice":false,"zero":false},"axis":{"values":[0,1,2],"format":"d","labelFontSize":16},"title":null}}},
{"mark":{"type":"rule","strokeWidth":1.3},"encoding":{"y":{"field":"lo","type":"quantitative","title":null},"y2":{"field":"hi"}}}
]}
],
"spacing":33,
"bounds":"flush",
"resolve":{"scale":{"color":"independent"},"legend":{"color":"independent"}},
"title":{"text":"(b) For various portions of outliers (1%, 2%, 5%, 10%, 20%)","orient":"bottom","fontSize":21,"offset":16,"dx":-62,"anchor":"middle","color":"#111"}
}
],
"spacing":9,
"resolve":{"scale":{"color":"independent"},"legend":{"color":"independent"}},
"config":{
"font":"Liberation Serif",
"view":{"stroke":"black","strokeWidth":1},
"axis":{"domain":false,"grid":false,"ticks":true,"tickColor":"black","tickSize":4,"labelColor":"#222","labelFont":"Liberation Serif","labelFlush":false,"labelOverlap":false,"labelPadding":2,"titleFont":"Liberation Serif","titleFontWeight":"normal","titleColor":"#222"},
"axisX":{"labelFontSize":12},
"axisY":{"labelFontSize":14},
"title":{"font":"Liberation Serif","fontWeight":"normal","fontSize":14,"color":"#222","offset":1},
"legend":{"labelFont":"Liberation Serif"}
}
}
